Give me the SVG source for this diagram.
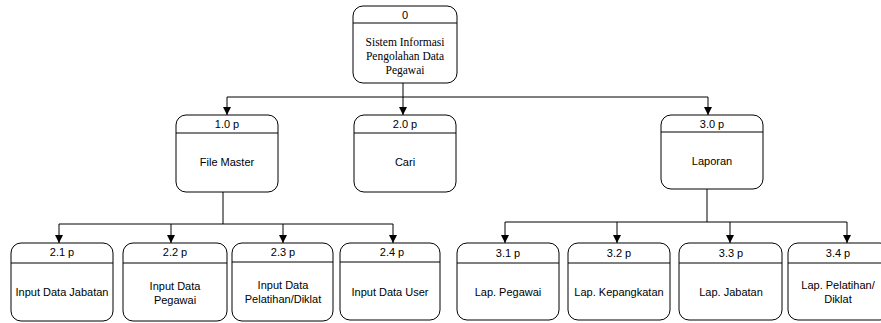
<svg xmlns="http://www.w3.org/2000/svg" width="881" height="323" viewBox="0 0 881 323">
<style>
.box{fill:#fff;stroke:#000;stroke-width:1}
.sep{stroke:#000;stroke-width:1}
.t{font-family:"Liberation Sans",Arial,sans-serif;font-size:11px;fill:#000;text-anchor:middle;dominant-baseline:central}
.s{font-family:"Liberation Serif","Times New Roman",serif;font-size:11.5px;fill:#000;text-anchor:middle;dominant-baseline:central}
.c{fill:none;stroke:#000;stroke-width:1}
</style>
<defs>
<marker id="ah" markerWidth="8" markerHeight="8" refX="8" refY="4" orient="auto" markerUnits="userSpaceOnUse">
<path d="M0,0 L8,4 L0,8 Z" fill="#000"/>
</marker>
</defs>
<g id="connectors">
<path class="c" d="M403,83 V97"/>
<path class="c" d="M227,97 H708"/>
<path class="c" d="M227,97 V115" marker-end="url(#ah)"/>
<path class="c" d="M403,97 V115" marker-end="url(#ah)"/>
<path class="c" d="M708,97 V115" marker-end="url(#ah)"/>
<path class="c" d="M223,192 V224"/>
<path class="c" d="M59,224 H393"/>
<path class="c" d="M59,224 V243" marker-end="url(#ah)"/>
<path class="c" d="M171,224 V243" marker-end="url(#ah)"/>
<path class="c" d="M283,224 V243" marker-end="url(#ah)"/>
<path class="c" d="M393,224 V243" marker-end="url(#ah)"/>
<path class="c" d="M707,189 V222"/>
<path class="c" d="M505,222 H847"/>
<path class="c" d="M505,222 V243" marker-end="url(#ah)"/>
<path class="c" d="M617,222 V243" marker-end="url(#ah)"/>
<path class="c" d="M730,222 V243" marker-end="url(#ah)"/>
<path class="c" d="M847,222 V243" marker-end="url(#ah)"/>
</g>
<g id="n0">
<rect class="box" x="353" y="6" width="104" height="77" rx="10"/>
<line class="sep" x1="353" y1="23" x2="457" y2="23"/>
<text class="t" x="405" y="15">0</text>
<text class="s" x="405" y="42">Sistem Informasi</text>
<text class="s" x="405" y="56">Pengolahan Data</text>
<text class="s" x="405" y="70">Pegawai</text>
</g>
<g id="n1">
<rect class="box" x="176" y="115" width="102" height="77" rx="10"/>
<line class="sep" x1="176" y1="133" x2="278" y2="133"/>
<text class="t" x="227" y="124">1.0 p</text>
<text class="t" x="227" y="162">File Master</text>
</g>
<g id="n2">
<rect class="box" x="354" y="115" width="102" height="77" rx="10"/>
<line class="sep" x1="354" y1="133" x2="456" y2="133"/>
<text class="t" x="405" y="124">2.0 p</text>
<text class="t" x="405" y="162">Cari</text>
</g>
<g id="n3">
<rect class="box" x="661" y="115" width="102" height="74" rx="10"/>
<line class="sep" x1="661" y1="132" x2="763" y2="132"/>
<text class="t" x="712" y="124">3.0 p</text>
<text class="t" x="712" y="161">Laporan</text>
</g>
<g id="n21">
<rect class="box" x="11" y="243" width="102" height="78" rx="10"/>
<line class="sep" x1="11" y1="263" x2="113" y2="263"/>
<text class="t" x="62" y="252">2.1 p</text>
<text class="t" x="62" y="292">Input Data Jabatan</text>
</g>
<g id="n22">
<rect class="box" x="123" y="243" width="104" height="78" rx="10"/>
<line class="sep" x1="123" y1="263" x2="227" y2="263"/>
<text class="t" x="175" y="252">2.2 p</text>
<text class="t" x="175" y="286">Input Data</text>
<text class="t" x="175" y="300">Pegawai</text>
</g>
<g id="n23">
<rect class="box" x="232" y="243" width="101" height="78" rx="10"/>
<line class="sep" x1="232" y1="262" x2="333" y2="262"/>
<text class="t" x="283" y="252">2.3 p</text>
<text class="t" x="283" y="285">Input Data</text>
<text class="t" x="283" y="299">Pelatihan/Diklat</text>
</g>
<g id="n24">
<rect class="box" x="340" y="243" width="100" height="77" rx="10"/>
<line class="sep" x1="340" y1="262" x2="440" y2="262"/>
<text class="t" x="392" y="252">2.4 p</text>
<text class="t" x="390" y="292">Input Data User</text>
</g>
<g id="n31">
<rect class="box" x="457" y="243" width="102" height="77" rx="10"/>
<line class="sep" x1="457" y1="263" x2="559" y2="263"/>
<text class="t" x="508" y="253">3.1 p</text>
<text class="t" x="508" y="292">Lap. Pegawai</text>
</g>
<g id="n32">
<rect class="box" x="568" y="243" width="102" height="77" rx="10"/>
<line class="sep" x1="568" y1="263" x2="670" y2="263"/>
<text class="t" x="619" y="253">3.2 p</text>
<text class="t" x="619" y="292">Lap. Kepangkatan</text>
</g>
<g id="n33">
<rect class="box" x="679" y="243" width="103" height="77" rx="10"/>
<line class="sep" x1="679" y1="263" x2="782" y2="263"/>
<text class="t" x="731" y="253">3.3 p</text>
<text class="t" x="731" y="292">Lap. Jabatan</text>
</g>
<g id="n34">
<rect class="box" x="788" y="243" width="102" height="77" rx="10"/>
<line class="sep" x1="788" y1="263" x2="890" y2="263"/>
<text class="t" x="838" y="253">3.4 p</text>
<text class="t" x="838" y="285">Lap. Pelatihan/</text>
<text class="t" x="838" y="299">Diklat</text>
</g>
</svg>
